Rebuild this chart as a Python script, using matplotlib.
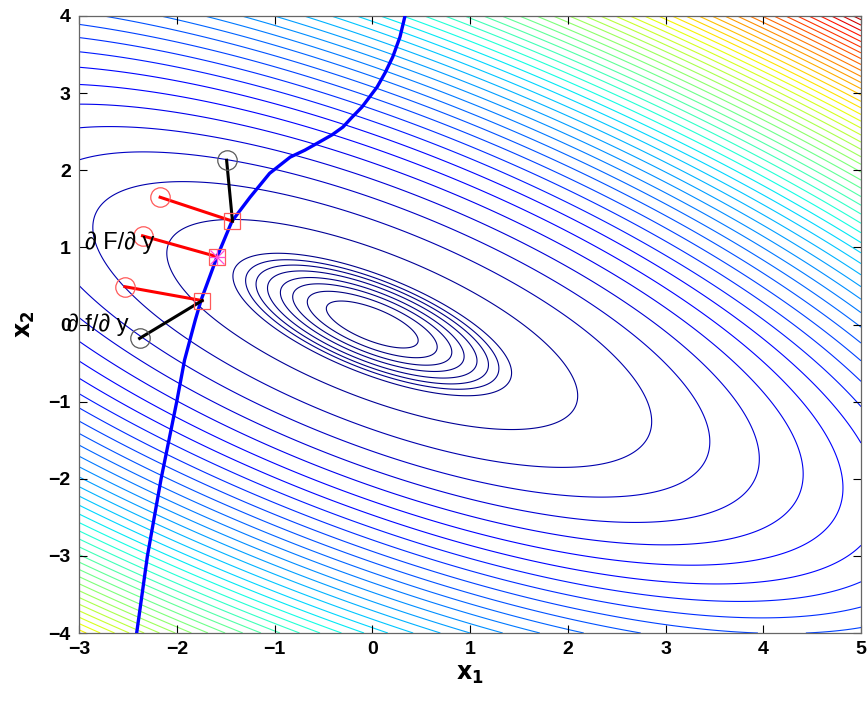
import numpy as np
import matplotlib
matplotlib.use("Agg")
import matplotlib.pyplot as plt
from matplotlib.colors import Normalize

# Quadratic objective f(x) = a*x1^2 + 2*b*x1*x2 + c*x2^2
a_coef, b_coef, c_coef = 0.42, 0.44, 1.0

# Contour levels: a tight group near the minimum, then evenly spaced levels
inner_levels = [0.05, 0.10, 0.15, 0.20, 0.26, 0.32, 0.38, 0.46]
outer_start, outer_step, outer_stop = 1.0, 0.85, 48.0
color_max = 46.0

# Constraint curve x1 = g(x2)
curve_x2 = [-4.0, -3.0, -2.0, -1.0, -0.46, 0.06, 0.32, 0.87, 1.34, 1.65,
            1.96, 2.17, 2.26, 2.37, 2.46, 2.56, 2.69, 2.82, 3.08, 3.26, 3.47,
            3.73, 4.0]
curve_x1 = [-2.41, -2.30, -2.16, -2.00, -1.92, -1.81, -1.75, -1.59, -1.435, -1.25,
            -1.05, -0.84, -0.69, -0.535, -0.41, -0.30, -0.205, -0.105, 0.05, 0.13, 0.21,
            0.284, 0.335]

# Points on the curve and the gradient ends attached to them
square_x1 = [-1.43, -1.59, -1.74]
square_x2 = [1.34, 0.88, 0.31]
red_circle_x1 = [-2.17, -2.35, -2.53]
red_circle_x2 = [1.65, 1.15, 0.49]
black_circle_x1 = [-1.49, -2.38]
black_circle_x2 = [2.13, -0.18]
black_square_idx = [0, 2]

label_F = "\u2202 F/\u2202 y"
label_f = "\u2202 f/\u2202 y"

xlim = (-3, 5)
ylim = (-4, 4)
xticks = [-3, -2, -1, 0, 1, 2, 3, 4, 5]
yticks = [-4, -3, -2, -1, 0, 1, 2, 3, 4]

plt.rcParams['font.family'] = ['Liberation Sans', 'DejaVu Sans']

fig = plt.figure(figsize=(8.67, 7.04), dpi=100)
ax = fig.add_axes([79 / 867, 1 - 633 / 704, (861 - 79) / 867, (633 - 16) / 704])

g1 = np.linspace(xlim[0], xlim[1], 500)
g2 = np.linspace(ylim[0], ylim[1], 500)
X1, X2 = np.meshgrid(g1, g2)
F = a_coef * X1 ** 2 + 2 * b_coef * X1 * X2 + c_coef * X2 ** 2

levels = sorted(list(inner_levels) + list(np.arange(outer_start, outer_stop, outer_step)))
ax.contour(X1, X2, F, levels=levels, cmap='jet', norm=Normalize(0, color_max),
           linewidths=0.8, zorder=1)

ax.plot(curve_x1, curve_x2, color=(0, 0, 1), lw=2.4, zorder=3,
        solid_joinstyle='round')

for i in range(len(square_x1)):
    ax.plot([red_circle_x1[i], square_x1[i]], [red_circle_x2[i], square_x2[i]],
            color='red', lw=2.2, zorder=4)
for k, j in enumerate(black_square_idx):
    ax.plot([black_circle_x1[k], square_x1[j]], [black_circle_x2[k], square_x2[j]],
            color='black', lw=2.2, zorder=4)

ax.plot(red_circle_x1, red_circle_x2, 'o', mfc='none', mec=(1, 0.35, 0.35),
        ms=14, mew=0.9, zorder=5)
ax.plot(black_circle_x1, black_circle_x2, 'o', mfc='none', mec=(0.35, 0.35, 0.35),
        ms=14, mew=0.9, zorder=5)
ax.plot(square_x1, square_x2, 's', mfc='none', mec=(1, 0.35, 0.35),
        ms=12, mew=0.9, zorder=5)
ax.plot(square_x1[1], square_x2[1], 'x', color=(1, 0.3, 0.85), ms=10, mew=0.9, zorder=5)
ax.plot(square_x1[1], square_x2[1], '+', color=(1, 0.3, 0.85), ms=12, mew=0.9, zorder=5)

ax.text(-2.94, 1.06, label_F, fontsize=17, ha='left', va='center', zorder=6)
ax.text(-3.12, 0.0, label_f, fontsize=17, ha='left', va='center', zorder=6)

ax.set_xlim(*xlim)
ax.set_ylim(*ylim)
ax.set_xticks(xticks)
ax.set_yticks(yticks)
ax.tick_params(direction='in', top=True, right=True, length=6, width=0.8,
               labelsize=14, pad=6, colors='black')
for lab in ax.get_xticklabels() + ax.get_yticklabels():
    lab.set_fontweight('bold')
for s in ax.spines.values():
    s.set_color((0.4, 0.4, 0.4))
    s.set_linewidth(0.9)

ax.set_xlabel(r'$\mathbf{x_1}$', fontsize=17, labelpad=4)
ax.set_ylabel(r'$\mathbf{x_2}$', fontsize=17, labelpad=8)

fig.savefig('out.png', dpi=100)
